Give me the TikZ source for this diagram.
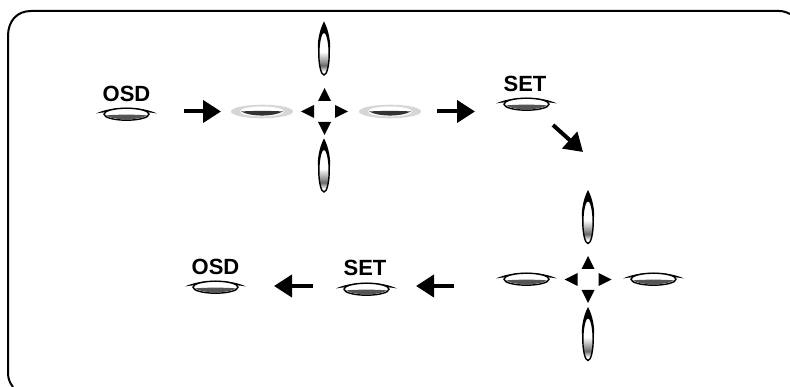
\documentclass[tikz,border=0pt]{standalone}
\usepackage{xcolor}
\usepackage{fontspec}
\setmainfont{Liberation Sans}
\usetikzlibrary{positioning,arrows.meta}
\definecolor{btngray}{HTML}{555555}
\definecolor{btnhalo}{HTML}{D6D6D6}
\pgfdeclareverticalshading{btnfade}{100bp}{color(0bp)=(white); color(29bp)=(white); color(36bp)=(btngray!90); color(39bp)=(btngray!70); color(52bp)=(white); color(100bp)=(white)}
\tikzset{
	btnbody/.style={inner sep=0pt, outer sep=0pt, minimum width=61pt, minimum height=14pt},
	lbl/.style={inner sep=0pt, font=\fontsize{22}{22}\selectfont\bfseries},
	flow/.style={-{Triangle[length=18pt,width=22pt]}, line width=4pt},
	btn/.pic={
		\fill[black] (-30.5,0.5) .. controls (-15,-7) and (15,-7) .. (30.5,0.5) .. controls (20,-2) and (-20,-2) .. cycle;
		\draw[line width=1.4pt, fill=white] (0,1.2) ellipse [x radius=22.5, y radius=6];
		\fill[btngray] (-20.5,2.4) .. controls (-10,1.4) and (10,1.4) .. (20.5,2.4) .. controls (13,7.6) and (-13,7.6) .. cycle;
		\node[btnbody] (-body) {};
	},
	btnlit/.pic={
		\fill[btnhalo] (0,0) ellipse [x radius=31, y radius=6.8];
		\fill[white] (0,0) ellipse [x radius=22, y radius=5];
		\fill[black!80] (-21,0) .. controls (-10,-0.8) and (10,-0.8) .. (21,0) .. controls (11,5.4) and (-11,5.4) .. cycle;
		\node[btnbody, minimum width=62pt] (-body) {};
	},
	btnup/.pic={
		\fill[black] (0,-27.5) .. controls (-3,-22) and (-6.5,-12) .. (-6.2,0) -- (6.2,0) .. controls (6.5,-12) and (3,-22) .. cycle;
		\path[shading=btnfade] (0,4.5) ellipse [x radius=5.2, y radius=21.5];
		\draw[line width=1.4pt] (0,4.5) ellipse [x radius=5.2, y radius=21.5];
		\node[btnbody, minimum width=14pt, minimum height=55pt] (-body) {};
	},
	dpad/.pic={
		\foreach \ang in {0,90,180,270}
			\fill[black, rotate=\ang] (23.5,0) -- (10.5,-6.5) -- (10.5,6.5) -- cycle;
	}
}
\begin{document}
\begin{tikzpicture}[x=1pt, y=-1pt]
	\useasboundingbox (0,0) rectangle (790,387);
	\draw[line width=2pt] (13,387) .. controls (10,383) and (8,379) .. (8,373) -- (8,36) .. controls (8,21) and (17,11) .. (31,11) -- (779,11) .. controls (783,11) and (786,12) .. (790,14);
	\pic (osdA) at (126.5,113) {btn};
	\pic (litL) at (262,111.5) {btnlit};
	\pic (litR) at (390,111.5) {btnlit};
	\pic (upA) at (324,49) {btnup};
	\pic (downA) at (324,166) {btnup};
	\pic at (324.5,111.5) {dpad};
	\pic (setA) at (526.5,103) {btn};
	\pic (upB) at (588,217.5) {btnup};
	\pic (downB) at (588,334.5) {btnup};
	\pic at (588,279.5) {dpad};
	\pic (leftB) at (526.5,278) {btn};
	\pic (rightB) at (653.5,278) {btn};
	\pic (setB) at (366.5,288) {btn};
	\pic (osdB) at (215.5,286) {btn};
	\node[lbl, above=4.5pt of osdA-body] (osdAtxt) {OSD};
	\node[lbl, above=4.5pt of setA-body, xshift=-1.5pt] (setAtxt) {SET};
	\node[lbl, above=5.5pt of setB-body, xshift=-1.5pt] (setBtxt) {SET};
	\node[lbl, above=4.5pt of osdB-body] (osdBtxt) {OSD};
	\coordinate (bendA) at (553,125);
	\coordinate (bendB) at (583,152);
	\draw[flow, shorten <=27pt, shorten >=10pt] (osdA-body.east |- litL-body) -- (litL-body.west);
	\draw[flow, shorten <=16pt, shorten >=21pt] (litR-body.east) -- (setA-body.west |- litR-body);
	\draw[flow] (bendA) -- (bendB);
	\draw[flow, shorten <=42pt, shorten >=19pt] (leftB-body.west |- osdB-body) -- (setB-body.east |- osdB-body);
	\draw[flow, shorten <=23pt, shorten >=28pt] (setB-body.west |- osdB-body) -- (osdB-body.east);
\end{tikzpicture}
\end{document}
